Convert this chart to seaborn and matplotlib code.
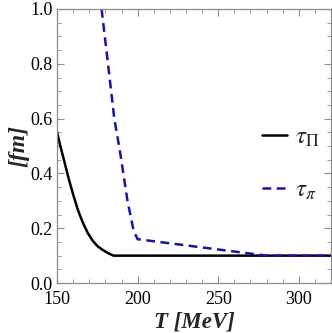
import pandas as pd
import matplotlib.pyplot as plt
import seaborn as sns
from matplotlib.ticker import MultipleLocator

# data
T_bulk = [150, 152, 154, 157, 160, 163, 166, 169, 172, 175, 178.5, 182, 185, 320]
tau_bulk = [0.55, 0.50, 0.455, 0.385, 0.322, 0.265, 0.22, 0.183, 0.155, 0.135, 0.12, 0.108, 0.10, 0.10]

T_shear = [177.6, 180.6, 185.5, 188.9, 193.6, 197.5, 200, 240, 280, 320]
tau_shear = [1.0, 0.85, 0.60, 0.485, 0.303, 0.19, 0.16, 0.13, 0.10, 0.10]

df_bulk = pd.DataFrame({'T': T_bulk, 'tau': tau_bulk})
df_shear = pd.DataFrame({'T': T_shear, 'tau': tau_shear})

sns.set_theme(style="ticks")
plt.rcParams['font.family'] = ['Liberation Serif', 'DejaVu Serif']
plt.rcParams['mathtext.fontset'] = 'stix'

fig = plt.figure(figsize=(3.32, 3.33), dpi=100)
ax = fig.add_axes([0.172, 0.150, 0.825, 0.823])

sns.lineplot(data=df_bulk, x='T', y='tau', ax=ax, color='black', lw=1.8,
             label=r'$\tau_\Pi$', sort=False)
sns.lineplot(data=df_shear, x='T', y='tau', ax=ax, color='#1414a8', lw=1.8,
             dashes=(3.5, 2.2), label=r'$\tau_\pi$', sort=False)

ax.set_xlim(150, 320)
ax.set_ylim(0, 1.0)
ax.xaxis.set_major_locator(MultipleLocator(50))
ax.xaxis.set_minor_locator(MultipleLocator(10))
ax.yaxis.set_major_locator(MultipleLocator(0.2))
ax.yaxis.set_minor_locator(MultipleLocator(0.05))
ax.yaxis.set_major_formatter(plt.FuncFormatter(lambda v, p: f'{v:.1f}'))

for s in ax.spines.values():
    s.set_color('#8c8c8c')
    s.set_linewidth(0.9)
ax.tick_params(which='both', direction='in', top=True, right=True,
               color='#8c8c8c', labelsize=13, labelcolor='black')
ax.tick_params(axis='x', pad=6)
ax.tick_params(axis='y', pad=3)
ax.tick_params(which='major', length=5, width=0.8)
ax.tick_params(which='minor', length=3, width=0.6)

ax.set_xlabel('T [MeV]', fontsize=16.5, fontweight='bold', style='italic', labelpad=2)
ax.set_ylabel('[fm]', fontsize=17, fontweight='bold', style='italic', labelpad=1)

ax.legend(loc='center left', bbox_to_anchor=(0.665, 0.435), frameon=False,
          fontsize=18, handlelength=1.0, handletextpad=0.35, labelspacing=1.2)

plt.savefig('out.png', dpi=100)
